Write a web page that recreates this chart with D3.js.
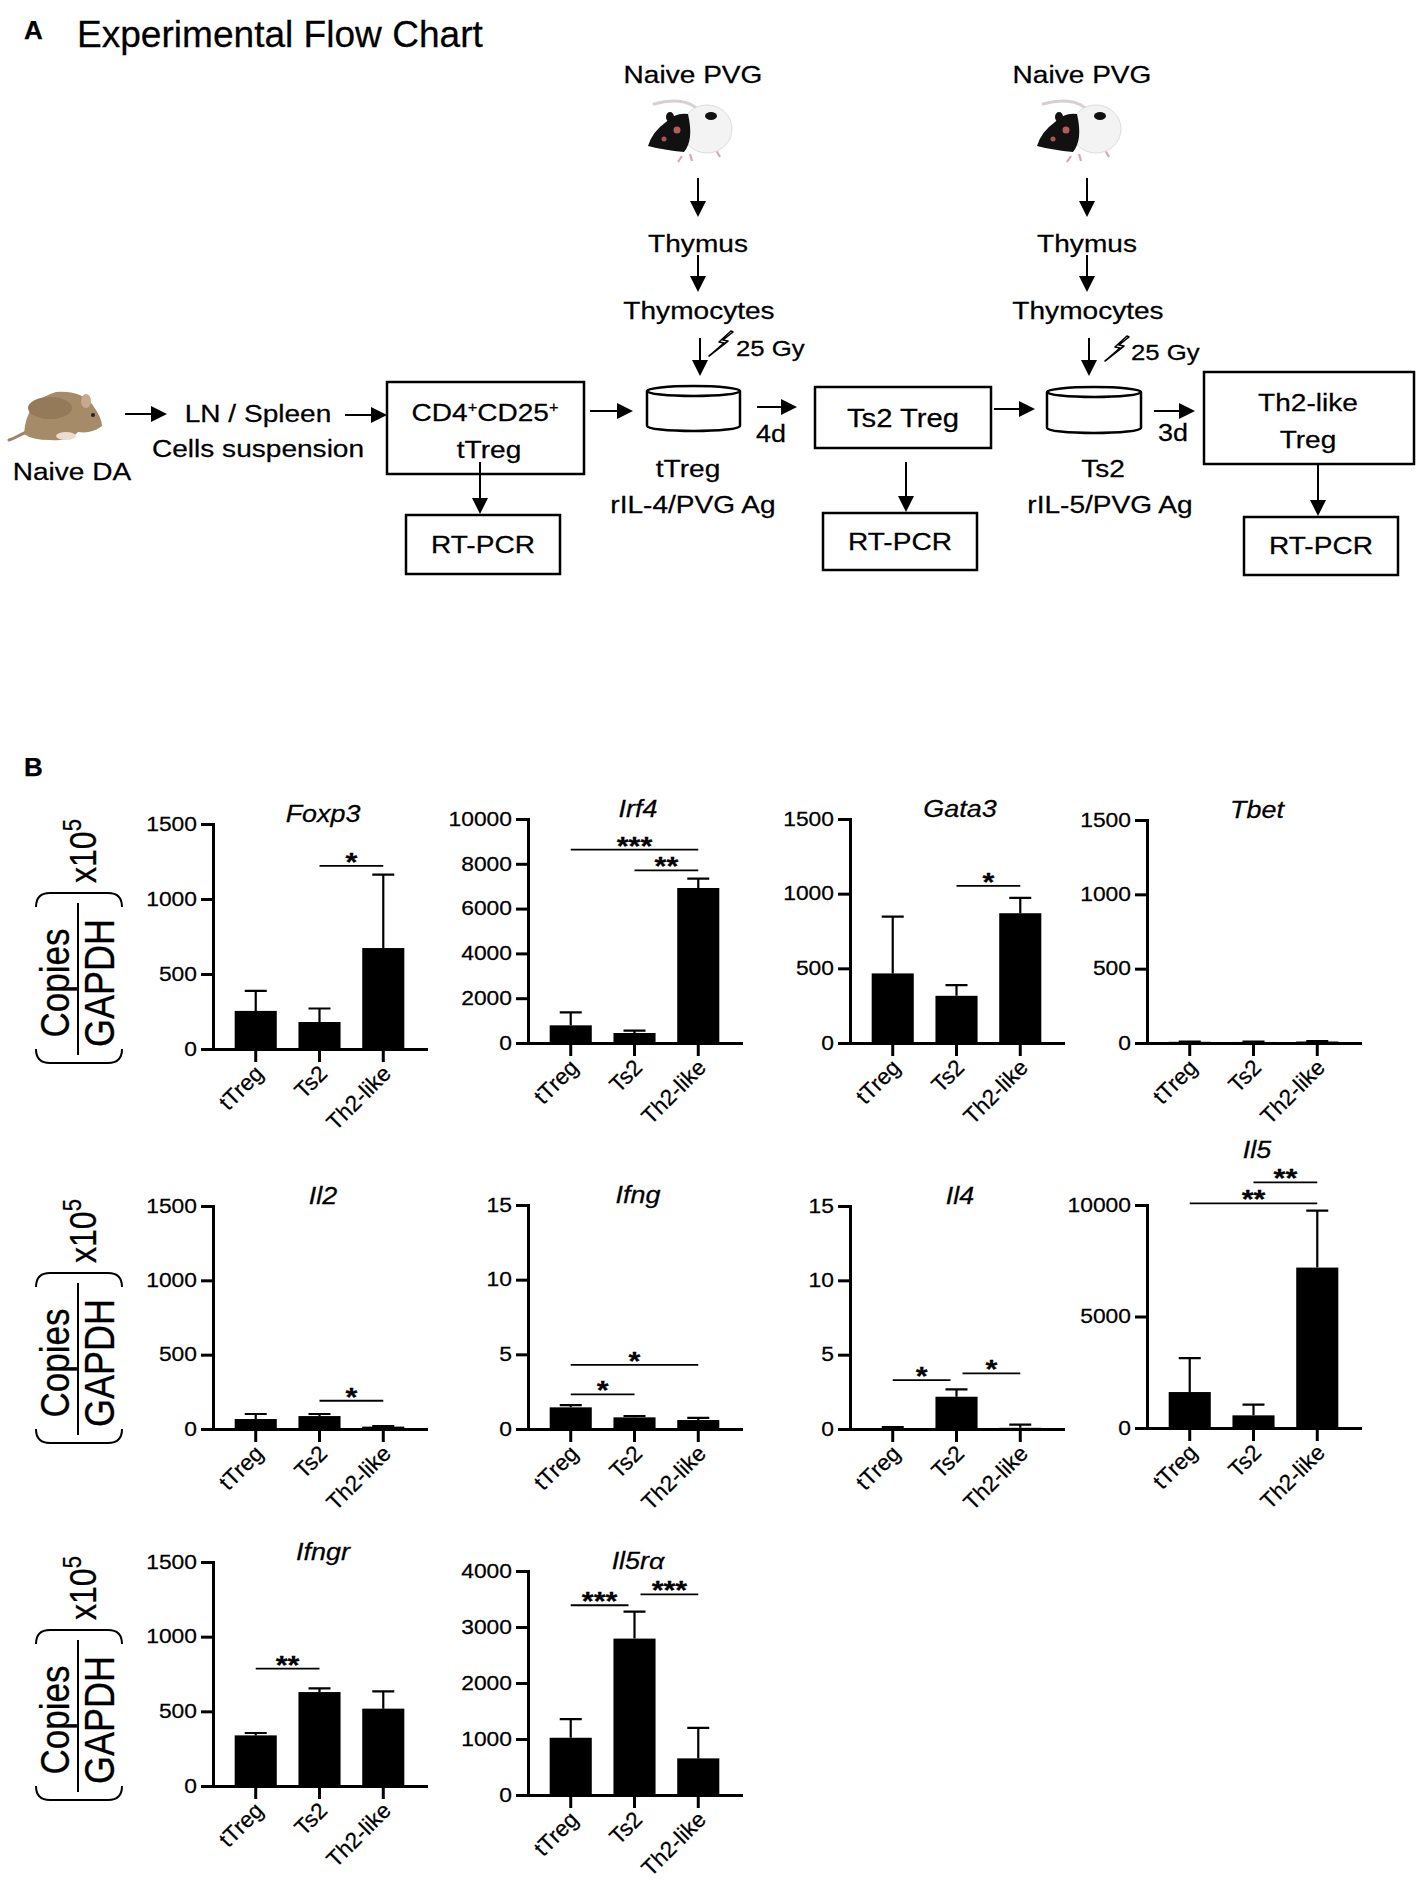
<!DOCTYPE html>
<html>
<head>
<meta charset="utf-8">
<script src="https://cdn.jsdelivr.net/npm/d3@7"></script>
<style>
  body { margin: 0; background: #fff; }
  svg { display: block; }
  text { font-family: "Liberation Sans", Arial, Helvetica, sans-serif; fill: #000; stroke: #000; stroke-width: 0.25; }
</style>
</head>
<body>
<svg id="fig" width="1418" height="1888"></svg>
<script>
// ---- data ----
const groups = ["tTreg", "Ts2", "Th2-like"];
const genes = ["Foxp3", "Irf4", "Gata3", "Tbet", "Il2", "Ifng", "Il4", "Il5", "Ifngr", "Il5rα"];
const means = [
  [254, 180, 673],
  [789, 446, 6920],
  [466, 316, 869],
  [8, 7, 10],
  [67, 87, 16],
  [1.45, 0.78, 0.6],
  [0.05, 2.17, 0.08],
  [1612, 567, 7194],
  [339, 629, 518],
  [1022, 2793, 654],
];
const sems = [
  [134, 90, 490],
  [580, 105, 416],
  [380, 71, 103],
  [2, 2, 3],
  [34, 14, 4],
  [0.15, 0.09, 0.14],
  [0.07, 0.49, 0.22],
  [1522, 478, 2552],
  [16, 25, 116],
  [333, 482, 546],
];
const yMax = [1500, 10000, 1500, 1500, 1500, 15, 15, 10000, 1500, 4000];
const yStep = [500, 2000, 500, 500, 500, 5, 5, 5000, 500, 1000];
// [gene index, from group, to group, bracket value, label]
const comparisons = [
  [0, 1, 2, 1221, "*"],
  [1, 0, 2, 8631, "***"],
  [1, 1, 2, 7708, "**"],
  [2, 1, 2, 1052, "*"],
  [4, 1, 2, 190, "*"],
  [5, 0, 1, 2.32, "*"],
  [5, 0, 2, 4.29, "*"],
  [6, 0, 1, 3.29, "*"],
  [6, 1, 2, 3.74, "*"],
  [7, 0, 2, 10075, "**"],
  [7, 1, 2, 11015, "**"],
  [8, 0, 1, 786, "**"],
  [9, 0, 1, 3388, "***"],
  [9, 1, 2, 3584, "***"],
];

// ---- layout ----
const SX = 1.17; // the figure's lettering is a little wide
const FONT = '"Liberation Sans", Arial, Helvetica, sans-serif';
// [y-axis x, axis top, zero line]
const panelPos = [
  [213, 824, 1049], [528, 819, 1043], [850, 819, 1043], [1147, 820, 1043],
  [213, 1206, 1429], [528, 1205, 1429], [850, 1206, 1429], [1147, 1205, 1428],
  [213, 1562, 1786], [528, 1571, 1795],
];
const rowZeros = [1049, 1429, 1786];

const svg = d3.select("#fig");

function label(parent, x, y, str, opt = {}) {
  const sx = opt.sx || SX;
  return parent.append("text")
    .attr("transform", `translate(${x},${y}) scale(${sx},1)${opt.rotate ? ` rotate(${opt.rotate})` : ""}`)
    .attr("text-anchor", opt.anchor || "middle")
    .attr("font-size", opt.size || 24)
    .attr("font-weight", opt.weight || null)
    .attr("font-style", opt.italic ? "italic" : null)
    .text(str);
}

function arrow(parent, x1, y1, x2, y2) {
  const len = Math.hypot(x2 - x1, y2 - y1);
  const ux = (x2 - x1) / len, uy = (y2 - y1) / len;
  const hl = 16, hw = 8;
  const bx = x2 - ux * hl, by = y2 - uy * hl;
  parent.append("line")
    .attr("x1", x1).attr("y1", y1).attr("x2", bx).attr("y2", by)
    .attr("stroke", "#000").attr("stroke-width", 2);
  parent.append("path")
    .attr("d", `M${x2},${y2}L${bx - uy * hw},${by + ux * hw}L${bx + uy * hw},${by - ux * hw}Z`)
    .attr("fill", "#000");
}

function box(parent, x1, y1, x2, y2) {
  parent.append("rect")
    .attr("x", x1).attr("y", y1).attr("width", x2 - x1).attr("height", y2 - y1)
    .attr("fill", "none").attr("stroke", "#000").attr("stroke-width", 2.5);
}

function dish(parent, x1, x2, yTop, yBot) {
  const cx = (x1 + x2) / 2, rx = (x2 - x1) / 2, ry = 5;
  parent.append("path")
    .attr("d", `M${x1},${yTop}V${yBot}A${rx},${ry} 0 0 0 ${x2},${yBot}V${yTop}`)
    .attr("fill", "#fff").attr("stroke", "#000").attr("stroke-width", 2.5);
  parent.append("ellipse")
    .attr("cx", cx).attr("cy", yTop).attr("rx", rx).attr("ry", ry)
    .attr("fill", "#fff").attr("stroke", "#000").attr("stroke-width", 2.5);
}

function bolt(parent, x, y) {
  parent.append("path")
    .attr("d", `M${x + 22},${y}L${x + 10},${y + 11}L${x + 15},${y + 12}L${x},${y + 25}L${x + 19},${y + 10}L${x + 14},${y + 9}L${x + 24},${y + 1}Z`)
    .attr("fill", "#fff").attr("stroke", "#000").attr("stroke-width", 1.6).attr("stroke-linejoin", "round");
}

function brownRat(parent) {
  const g = parent.append("g");
  g.append("path").attr("d", "M32,430 C22,433 16,438 9,440")
    .attr("fill", "none").attr("stroke", "#9c8466").attr("stroke-width", 3).attr("stroke-linecap", "round");
  g.append("path").attr("d", "M24,434 Q26,400 56,392 Q80,390 92,404 Q102,418 102,426 Q92,434 78,432 Q70,442 50,440 Q32,440 24,434 Z")
    .attr("fill", "#a68b69");
  g.append("ellipse").attr("cx", 50).attr("cy", 408).attr("rx", 22).attr("ry", 11).attr("fill", "#957a59");
  g.append("ellipse").attr("cx", 86).attr("cy", 401).attr("rx", 5).attr("ry", 7).attr("fill", "#c8a88a");
  g.append("circle").attr("cx", 93).attr("cy", 415).attr("r", 2).attr("fill", "#222");
  g.append("ellipse").attr("cx", 66).attr("cy", 436).attr("rx", 10).attr("ry", 4).attr("fill", "#e9ddd0");
}

function pvgRat(parent, dx) {
  const g = parent.append("g").attr("transform", `translate(${dx},0)`);
  g.append("path").attr("d", "M700,112 C690,98 668,100 654,104")
    .attr("fill", "none").attr("stroke", "#d8d0d0").attr("stroke-width", 3).attr("stroke-linecap", "round");
  g.append("path").attr("d", "M682,156 L678,162 M690,154 L692,161 M716,150 L720,157")
    .attr("stroke", "#d9a9b0").attr("stroke-width", 2.2);
  g.append("ellipse").attr("cx", 707).attr("cy", 129).attr("rx", 25).attr("ry", 24).attr("fill", "#f3f3f3").attr("stroke", "#ddd");
  g.append("path").attr("d", "M688,114 Q694,140 684,152 Q664,150 648,146 Q652,132 666,122 Q676,112 688,114 Z").attr("fill", "#111");
  g.append("ellipse").attr("cx", 670).attr("cy", 117).attr("rx", 4).attr("ry", 5).attr("fill", "#111");
  g.append("ellipse").attr("cx", 711).attr("cy", 116).attr("rx", 6).attr("ry", 4).attr("fill", "#111");
  g.append("circle").attr("cx", 677).attr("cy", 130).attr("r", 3.5).attr("fill", "#b45c5c");
  g.append("circle").attr("cx", 664).attr("cy", 139).attr("r", 2.5).attr("fill", "#a85555");
}

// ---- panel A: flow chart ----
const fc = svg.append("g");
label(fc, 24, 39, "A", { anchor: "start", size: 26, weight: "bold", sx: 1 });
label(fc, 77, 47, "Experimental Flow Chart", { anchor: "start", size: 36, sx: 1.03 });

brownRat(fc);
label(fc, 72, 480, "Naive DA");
arrow(fc, 125, 414, 167, 414);
label(fc, 258, 422, "LN / Spleen");
label(fc, 258, 457, "Cells suspension");
arrow(fc, 345, 415, 387, 415);

box(fc, 387, 382, 584, 474);
const cd = label(fc, 485, 421, "CD4");
cd.append("tspan").attr("font-size", 14).attr("dy", -9).text("+");
cd.append("tspan").attr("dy", 9).text("CD25");
cd.append("tspan").attr("font-size", 14).attr("dy", -9).text("+");
label(fc, 489, 458, "tTreg");
arrow(fc, 480, 462, 480, 514);
box(fc, 406, 515, 560, 574);
label(fc, 483, 553, "RT-PCR");

arrow(fc, 590, 411, 633, 411);

[[0, 693, 698, 699], [389, 1082, 1087, 1088]].forEach(([dx, cText, cArrow, cLow]) => {
  label(fc, cText, 83, "Naive PVG");
  pvgRat(fc, dx);
  arrow(fc, cArrow, 178, cArrow, 217);
  label(fc, cLow - 1, 252, "Thymus");
  arrow(fc, cArrow, 255, cArrow, 292);
  label(fc, cLow, 319, "Thymocytes");
  arrow(fc, cArrow + 2, 338, cArrow + 2, 376);
});
bolt(fc, 709, 331);
label(fc, 736, 356, "25 Gy", { anchor: "start", size: 22 });
bolt(fc, 1105, 336);
label(fc, 1131, 360, "25 Gy", { anchor: "start", size: 22 });

dish(fc, 647, 740, 391, 426);
label(fc, 688, 477, "tTreg");
label(fc, 693, 513, "rIL-4/PVG Ag");
arrow(fc, 757, 407, 797, 407);
label(fc, 756, 442, "4d", { anchor: "start", size: 23 });

box(fc, 815, 387, 991, 448);
label(fc, 903, 427, "Ts2 Treg", { size: 25 });
arrow(fc, 906, 462, 906, 512);
box(fc, 823, 513, 977, 570);
label(fc, 900, 550, "RT-PCR");

arrow(fc, 994, 409, 1035, 409);
dish(fc, 1047, 1141, 392, 428);
label(fc, 1103, 477, "Ts2");
label(fc, 1110, 513, "rIL-5/PVG Ag");
arrow(fc, 1154, 411, 1195, 411);
label(fc, 1158, 441, "3d", { anchor: "start", size: 23 });

box(fc, 1204, 372, 1414, 464);
label(fc, 1308, 411, "Th2-like");
label(fc, 1308, 448, "Treg");
arrow(fc, 1318, 464, 1318, 516);
box(fc, 1244, 517, 1398, 575);
label(fc, 1321, 554, "RT-PCR");

// ---- panel B: bar charts ----
label(svg, 24, 776, "B", { anchor: "start", size: 26, weight: "bold", sx: 1 });

rowZeros.forEach(zero => {
  const g = svg.append("g").attr("transform", `translate(0,${zero})`);
  g.append("path").attr("d", "M36,0 Q36,14 50,14 L108,14 Q122,14 122,0")
    .attr("fill", "none").attr("stroke", "#000").attr("stroke-width", 2);
  g.append("path").attr("d", "M36,-142 Q36,-156 50,-156 L108,-156 Q122,-156 122,-142")
    .attr("fill", "none").attr("stroke", "#000").attr("stroke-width", 2);
  g.append("line").attr("x1", 78).attr("x2", 78).attr("y1", -146).attr("y2", 6)
    .attr("stroke", "#000").attr("stroke-width", 2);
  label(g, 69, -66, "Copies", { size: 35, rotate: -90 });
  label(g, 114, -66, "GAPDH", { size: 36, rotate: -90 });
  const t = label(g, 96, -198, "x10", { size: 32, rotate: -90 });
  t.append("tspan").attr("font-size", 22).attr("dy", -13).text("5");
});

function drawPanel(i) {
  const [ax, top, zero] = panelPos[i];
  const x = d3.scaleBand().domain(groups).range([ax, ax + 213]).paddingInner(0.34).paddingOuter(0.34);
  const y = d3.scaleLinear().domain([0, yMax[i]]).range([zero, top]);
  const bw = x.bandwidth();
  const cx = k => x(k) + bw / 2;
  const rows = groups.map((k, j) => ({ k, v: means[i][j], e: sems[i][j] }));
  const g = svg.append("g");

  g.selectAll(".err").data(rows).join("path").attr("class", "err")
    .attr("d", d => `M${cx(d.k)},${y(d.v)}V${y(d.v + d.e)}M${cx(d.k) - 11},${y(d.v + d.e)}H${cx(d.k) + 11}`)
    .attr("fill", "none").attr("stroke", "#000").attr("stroke-width", 2.2);
  g.selectAll(".bar").data(rows).join("rect").attr("class", "bar")
    .attr("x", d => x(d.k)).attr("width", bw)
    .attr("y", d => y(d.v)).attr("height", d => zero - y(d.v))
    .attr("fill", "#000");

  const yAxis = g.append("g").attr("transform", `translate(${ax},0)`)
    .call(d3.axisLeft(y).tickValues(d3.range(0, yMax[i] + 1e-9, yStep[i]))
      .tickSize(12).tickSizeOuter(0).tickFormat(d3.format("d")));
  yAxis.attr("font-size", 19.5).attr("font-family", FONT);
  yAxis.selectAll("text").attr("x", null).attr("transform", `translate(-16,0) scale(${SX},1)`);

  const xAxis = g.append("g").attr("transform", `translate(0,${zero})`)
    .call(d3.axisBottom(x).tickSize(13).tickSizeOuter(0));
  xAxis.attr("font-size", 22.5).attr("font-family", FONT);
  xAxis.selectAll("text").attr("y", null).attr("dy", null).attr("text-anchor", "end")
    .attr("transform", "translate(9,26) rotate(-45)");

  g.selectAll(".domain, .tick line").attr("stroke", "#000").attr("stroke-width", 3);
  g.selectAll(".domain").attr("stroke-linecap", "square");

  const comps = comparisons.filter(c => c[0] === i);
  let topSig = Infinity;
  comps.forEach(c => {
    const [, a, b, v, stars] = c;
    const endsAt = k => comps.some(o => o !== c && o[2] === k);
    const startsAt = k => comps.some(o => o !== c && o[1] === k);
    const x1 = cx(groups[a]) + (endsAt(a) ? 6 : 0);
    const x2 = cx(groups[b]) - (startsAt(b) ? 6 : 0);
    const yy = y(v);
    topSig = Math.min(topSig, yy);
    g.append("line").attr("x1", x1).attr("x2", x2).attr("y1", yy).attr("y2", yy)
      .attr("stroke", "#000").attr("stroke-width", 1.8);
    label(g, (x1 + x2) / 2, yy + 5, stars, { size: 26, weight: "bold" });
  });

  const titleY = Math.min(top - 2, topSig - 24);
  label(g, ax + 110, titleY, genes[i], { size: 23, italic: true });
}

genes.forEach((_, i) => drawPanel(i));
</script>
</body>
</html>
